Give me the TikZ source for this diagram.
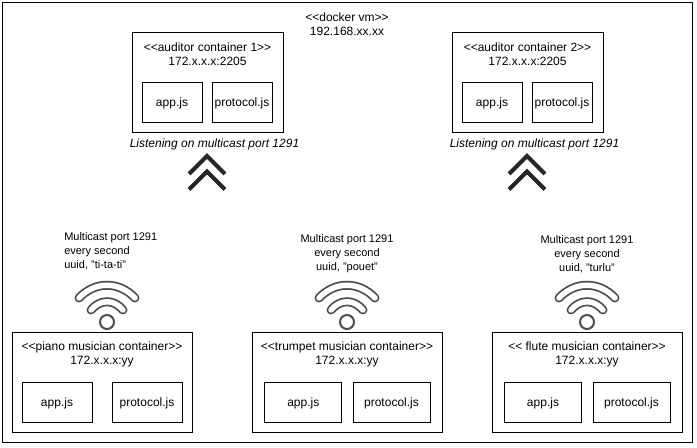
\documentclass[tikz,border=0pt]{standalone}
\usepackage{fontspec}
\setmainfont{Liberation Sans}
\usepackage{tikz}
\usetikzlibrary{calc}
\def\px{0.75pt}
\tikzset{
  frame/.style={draw=black, line width=1*\px, inner sep=0pt, outer sep=0pt},
  container/.style={frame, minimum height=100*\px},
  file/.style={frame, minimum height=40*\px, font=\fontsize{9}{10.5}\selectfont},
  caption/.style={align=center, inner sep=0pt, font=\fontsize{9}{10.5}\selectfont},
  sendnote/.style={align=center, inner sep=0pt, font=\fontsize{8.25}{10.5}\selectfont},
  chevron/.style={draw=black!85, line width=4*\px},
  wifi/.style={draw=black!70, line width=2*\px},
}

\begin{document}
\begin{tikzpicture}[x=\px, y=-\px]
\useasboundingbox (0, 0) rectangle (697, 448);

\node[frame, minimum width=690*\px, minimum height=440*\px] (vm) at (347, 223) {};
\node[caption] (vmlabel) at (347, 24.5) {<{}<docker vm>{}>\\192.168.xx.xx};

% auditors
\node[container, minimum width=151*\px] (auditorone) at (207.5, 83) {};
\node[caption] at (207.5, 54.5) (auditoronelabel) {<{}<auditor container 1>{}>\\172.x.x.x:2205};
\node[file, minimum width=60*\px] (appone) at (172, 103) {app.js};
\node[file, minimum width=60*\px] (protocolone) at (242, 103) {protocol.js};
\node[caption] (listenone) at (214.5, 144) {\itshape Listening on multicast port 1291};

\node[container, minimum width=151*\px] (auditortwo) at (527.5, 83) {};
\node[caption] at (527.5, 54.5) (auditortwolabel) {<{}<auditor container 2>{}>\\172.x.x.x:2205};
\node[file, minimum width=60*\px] (apptwo) at (492, 103) {app.js};
\node[file, minimum width=60*\px] (protocoltwo) at (562, 103) {protocol.js};
\node[caption] (listentwo) at (534.5, 144) {\itshape Listening on multicast port 1291};

\foreach \x in {207, 527} {
  \draw[chevron] (\x-18, 174) -- (\x, 156) -- (\x+18, 174);
  \draw[chevron] (\x-18, 189.5) -- (\x, 171.5) -- (\x+18, 189.5);
}

% musicians
\node[container, minimum width=180*\px] (piano) at (102, 383) {};
\node[caption] (pianolabel) at (102, 354.5) {<{}<piano musician container>{}>\\172.x.x.x:yy};
\node[file, minimum width=70*\px] (apppiano) at (57, 403) {app.js};
\node[file, minimum width=70*\px] (protocolpiano) at (147, 403) {protocol.js};
\node[sendnote, align=left, anchor=west] (sendpiano) at (64, 251) {Multicast port 1291\\every second\\uuid, "ti-ta-ti"};

\node[container, minimum width=190*\px] (trumpet) at (347, 383) {};
\node[caption] (trumpetlabel) at (347, 354.5) {<{}<trumpet musician container>{}>\\172.x.x.x:yy};
\node[file, minimum width=77*\px] (apptrumpet) at (303.3, 403) {app.js};
\node[file, minimum width=77*\px] (protocoltrumpet) at (391.5, 403) {protocol.js};
\node[sendnote] (sendtrumpet) at (347, 254) {Multicast port 1291\\every second\\uuid, "pouet"};

\node[container, minimum width=190*\px] (flute) at (587, 383) {};
\node[caption] (flutelabel) at (587, 354.5) {<{}< flute musician container>{}>\\172.x.x.x:yy};
\node[file, minimum width=77*\px] (appflute) at (543, 403) {app.js};
\node[file, minimum width=77*\px] (protocolflute) at (631.5, 403) {protocol.js};
\node[sendnote] (sendflute) at (587, 254) {Multicast port 1291\\every second\\uuid, "turlu"};

\foreach \x in {107, 347, 587} {
  \draw[wifi, line width=9*\px, line cap=round] (\x-28, 298) .. controls (\x-12, 281) and (\x+12, 281) .. (\x+28, 298);
  \draw[white, line width=5.5*\px, line cap=round] (\x-28, 298) .. controls (\x-12, 281) and (\x+12, 281) .. (\x+28, 298);
  \draw[wifi, line width=9*\px, line cap=round] (\x-16, 310) .. controls (\x-7, 299) and (\x+7, 299) .. (\x+16, 310);
  \draw[white, line width=5.5*\px, line cap=round] (\x-16, 310) .. controls (\x-7, 299) and (\x+7, 299) .. (\x+16, 310);
  \draw[wifi, fill=white] (\x, 322) circle (7);
}
\end{tikzpicture}
\end{document}
